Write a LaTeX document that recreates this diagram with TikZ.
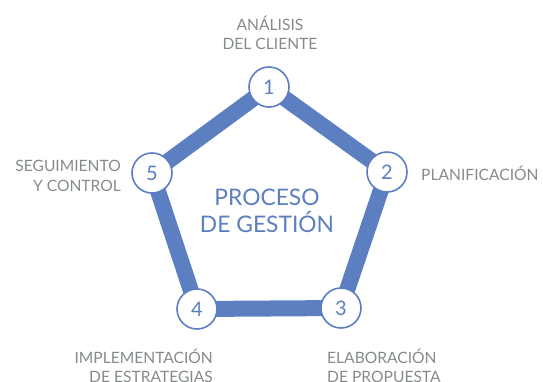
\documentclass[tikz,border=0pt]{standalone}
\usepackage{fontspec}
\setmainfont{Lato}
\definecolor{pblue}{HTML}{5B7FC0}
\definecolor{ptext}{HTML}{858B8D}
\begin{document}
\begin{tikzpicture}[x=1pt,y=-1pt,
  stepnode/.style={circle,draw=pblue,line width=1.6pt,fill=white,minimum size=40pt,inner sep=0pt,text=pblue,font=\fontsize{20}{20}\selectfont},
  edge/.style={draw=pblue,line width=16pt},
  lbl/.style={text=ptext,font=\fontsize{15.6}{19.5}\selectfont,inner sep=0pt}]
\useasboundingbox (0,0) rectangle (543,381);
\coordinate (c1) at (269,87);
\coordinate (c2) at (387,172);
\coordinate (c3) at (341,308);
\coordinate (c4) at (197,309);
\coordinate (c5) at (152,173);
\draw[edge,line join=miter] (c1) -- (c2) -- (c3) -- (c4) -- (c5) -- cycle;
\node[stepnode] (n1) at (c1) {1};
\node[stepnode] (n2) at (c2) {2};
\node[stepnode] (n3) at (c3) {3};
\node[stepnode] (n4) at (c4) {4};
\node[stepnode] (n5) at (c5) {5};
\node[text=pblue,font=\fontsize{22.8}{27}\selectfont,align=center,inner sep=0pt] (title) at (267,211) {PROCESO\\DE GESTIÓN};
\node[lbl,align=center] (l1) at (270,33) {ANÁLISIS\\DEL CLIENTE};
\node[lbl,anchor=west] (l2) at (421,173) {PLANIFICACIÓN};
\node[lbl,align=left,anchor=west] (l3) at (327,366) {ELABORACIÓN\\DE PROPUESTA};
\node[lbl,align=right,anchor=east] (l4) at (213,366) {IMPLEMENTACIÓN\\DE ESTRATEGIAS};
\node[lbl,align=right,anchor=east] (l5) at (121,176) {SEGUIMIENTO\\Y CONTROL};
\end{tikzpicture}
\end{document}
